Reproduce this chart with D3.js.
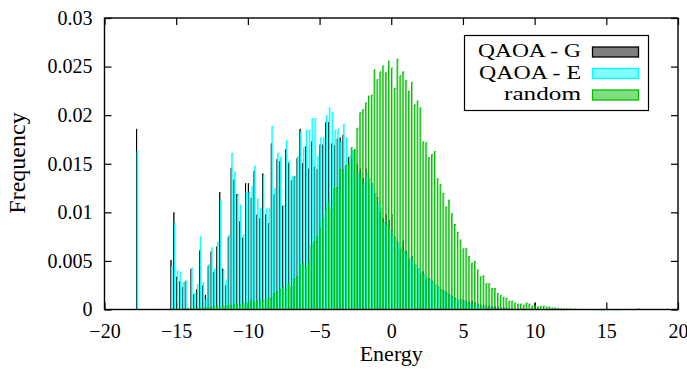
<!DOCTYPE html>
<html>
<head>
<meta charset="utf-8">
<script src="https://cdn.jsdelivr.net/npm/d3@7/dist/d3.min.js"></script>
<style>
  html, body { margin: 0; padding: 0; background: #fff; }
  svg { display: block; }
  text { font-family: "Liberation Serif", "DejaVu Serif", serif; fill: #000; }
</style>
</head>
<body>
<svg id="chart" width="687" height="374"></svg>
<script>
// Energy histogram bins: 0.2 wide, first bin centred at -17.8
const binStart = -17.8;
const binStep = 0.2;

// Frequencies per bin, in units of 1e-3
const qaoaG = [
  18.6, 0, 0, 0, 0, 0, 0, 0, 0, 0, 0, 0,
  5.1, 10.0, 3.4, 2.9, 2.3, 2.9, 0, 4.2, 1.6, 2.1,
  6.1, 2.5, 1.5, 4.5, 6.0, 3.9, 6.5, 12.1, 4.2, 2.5,
  7.5, 14.6, 13.4, 11.9, 9.1, 7.4, 13.0, 13.0, 11.5, 14.3,
  9.8, 9.4, 14.0, 9.8, 8.9, 17.1, 11.9, 15.5, 15.3, 10.7,
  16.5, 15.1, 13.3, 13.7, 15.6, 18.6, 15.1, 16.8, 14.5, 17.3,
  14.7, 14.5, 17.0, 17.0, 19.3, 19.3, 17.1, 16.9, 17.6, 17.7,
  18.0, 14.5, 15.7, 15.5, 16.4, 15.0, 14.5, 13.5, 14.5, 12.6,
  13.0, 12.0, 11.6, 10.0, 9.4, 9.8, 9.2, 9.8, 7.5, 7.0,
  6.2, 7.1, 6.0, 5.1, 5.5, 4.6, 4.2, 3.6, 3.9, 3.1,
  3.2, 2.9, 2.5, 2.4, 2.1, 2.0, 1.8, 1.6, 1.4, 1.2,
  0.8, 1.1, 1.0, 0.9, 0.8, 0.9, 0.7, 0.6, 0.5, 0.5,
  0.4, 0.4, 0.3, 0.3, 0.25, 0.2, 0.2, 0.2, 0.15, 0.1,
  0.1, 0.1, 0.1, 0.1, 0.05, 0.05, 0.1, 0.7, 0.1, 0.05,
  0.05, 0.03, 0.03, 0.02, 0.02, 0.02, 0.01, 0.01, 0, 0
];

const qaoaE = [
  16.3, 0, 0, 0, 0, 0, 0, 0, 0, 0, 0, 0,
  4.5, 8.9, 4.0, 3.9, 2.8, 3.0, 0, 4.3, 1.7, 2.6,
  7.5, 2.8, 1.1, 4.7, 6.4, 4.2, 7.0, 11.3, 4.0, 3.0,
  7.7, 16.1, 14.2, 11.8, 10.8, 7.7, 12.1, 12.1, 12.7, 14.8,
  11.4, 10.4, 13.8, 10.4, 10.4, 18.9, 12.5, 16.1, 15.7, 10.7,
  17.4, 15.3, 13.7, 13.7, 15.8, 18.3, 16.7, 18.5, 18.5, 19.7,
  19.7, 15.8, 17.7, 17.7, 20.0, 20.8, 20.3, 18.5, 18.6, 17.3,
  19.1, 17.7, 15.8, 16.4, 16.4, 14.0, 13.6, 13.0, 14.0, 13.5,
  12.8, 12.0, 11.0, 10.5, 9.0, 8.8, 8.2, 7.6, 7.2, 6.8,
  6.4, 6.0, 5.7, 5.3, 5.0, 4.6, 4.3, 3.9, 3.6, 3.3,
  3.1, 2.8, 2.6, 2.3, 2.1, 1.9, 1.7, 1.5, 1.3, 1.1,
  1.0, 0.9, 0.8, 0.7, 0.6, 0.5, 0.45, 0.4, 0.35, 0.3,
  0.25, 0.2, 0.2, 0.15, 0.1, 0.1, 0.1, 0.05, 0.05, 0.05,
  0.05, 0.05, 0.03, 0.03, 0.03, 0.02, 0.02, 0.02, 0.02, 0.01
];

const randomE = [
  0, 0, 0, 0, 0, 0, 0, 0, 0, 0, 0, 0,
  0.05, 0.05, 0.1, 0.05, 0.1, 0.1, 0.15, 0.1, 0.15, 0.2,
  0.2, 0.2, 0.25, 0.2, 0.3, 0.3, 0.35, 0.3, 0.4, 0.4,
  0.45, 0.5, 0.5, 0.6, 0.5, 0.6, 0.7, 0.6, 1.0, 0.8,
  0.9, 1.0, 0.9, 1.1, 1.1, 1.3, 1.7, 1.9, 2.1, 2.3,
  2.1, 2.7, 2.4, 3.2, 3.4, 4.5, 4.8, 4.4, 4.8, 6.6,
  7.0, 7.5, 8.4, 9.4, 10.3, 11.1, 10.4, 12.5, 12.6, 14.5,
  14.4, 14.9, 15.0, 16.7, 16.5, 18.7, 20.3, 20.6, 21.3, 22.0,
  22.1, 24.7, 23.7, 24.5, 25.1, 24.4, 25.6, 24.9, 22.8, 25.8,
  24.1, 24.5, 23.6, 22.5, 23.4, 21.1, 21.5, 20.8, 17.3, 17.2,
  15.7, 16.0, 16.3, 13.5, 12.9, 12.0, 10.6, 11.3, 9.9, 8.8,
  8.0, 7.2, 6.3, 6.3, 5.5, 4.8, 5.0, 4.1, 3.4, 3.5,
  2.7, 2.7, 2.2, 2.2, 1.7, 1.5, 1.3, 1.2, 0.9, 0.9,
  0.7, 0.6, 0.6, 0.5, 0.7, 0.6, 0.4, 0.4, 0.3, 0.35,
  0.4, 0.3, 0.3, 0.2, 0.2, 0.15, 0.1, 0.1, 0.1, 0.1,
  0.05, 0.08, 0.05, 0.05, 0.03, 0.05, 0.03, 0.02, 0.02, 0.03,
  0.02, 0.02, 0.01, 0.02, 0.01, 0.01, 0.01, 0, 0, 0,
  0, 0, 0, 0.1, 0, 0, 0, 0
];

const xTicks = [-20, -15, -10, -5, 0, 5, 10, 15, 20];
const yTicks = [0, 0.005, 0.01, 0.015, 0.02, 0.025, 0.03];
const yTickLabels = ["0", "0.005", "0.01", "0.015", "0.02", "0.025", "0.03"];

const seriesNames = ["QAOA - G", "QAOA - E", "random"];
const seriesColors = ["#000000", "#00ffff", "#00c000"];

(function draw() {
  const svg = d3.select("#chart");
  const pL = 104.5, pR = 678, pT = 18, pB = 309.5;

  const x = d3.scaleLinear().domain([-20, 20]).range([pL, pR]);
  const y = d3.scaleLinear().domain([0, 0.03]).range([pB, pT]);

  const series = [qaoaG, qaoaE, randomE];
  // placement of each series' box inside a bin (pixel offset from bin centre, width)
  const shifts = [0.0, 0.7, -0.3];
  const widths = [1.2, 1.8, 1.8];

  // ticks (drawn inward, mirrored on all four sides)
  const axB = svg.append("g").attr("transform", `translate(0,${pB})`)
    .call(d3.axisBottom(x).tickValues(xTicks).tickSize(-7).tickPadding(14)
      .tickFormat(d => d < 0 ? "\u2212" + Math.abs(d) : String(d)));
  const axT = svg.append("g").attr("transform", `translate(0,${pT})`)
    .call(d3.axisTop(x).tickValues(xTicks).tickSize(-7).tickFormat(""));
  const axL = svg.append("g").attr("transform", `translate(${pL},0)`)
    .call(d3.axisLeft(y).tickValues(yTicks).tickSize(-7).tickPadding(12)
      .tickFormat((d, i) => yTickLabels[i]));
  const axR = svg.append("g").attr("transform", `translate(${pR},0)`)
    .call(d3.axisRight(y).tickValues(yTicks).tickSize(-7).tickFormat(""));

  [axB, axT, axL, axR].forEach(a => {
    a.select(".domain").remove();
    a.selectAll(".tick line").attr("stroke", "#000").attr("stroke-width", 1.2);
    a.selectAll("text").attr("font-size", 20);
  });

  // histogram boxes: half-transparent fill with an opaque edge
  series.forEach((vals, s) => {
    const g = svg.append("g");
    const w = widths[s];
    const data = vals.map((v, i) => ({ e: binStart + i * binStep, f: v * 1e-3 }))
      .filter(d => d.f > 0);
    g.selectAll("rect.body").data(data).join("rect")
      .attr("class", "body")
      .attr("x", d => x(d.e) + shifts[s])
      .attr("width", w)
      .attr("y", d => y(d.f))
      .attr("height", d => pB - y(d.f))
      .attr("fill", seriesColors[s])
      .attr("fill-opacity", 0.5);
    g.selectAll("path.edge").data(data).join("path")
      .attr("class", "edge")
      .attr("d", d => {
        const x0 = x(d.e) + shifts[s] + 0.5, yt = y(d.f) + 0.5;
        return `M${x0},${pB}V${yt}H${x0 + Math.max(w - 0.5, 0.5)}`;
      })
      .attr("fill", "none")
      .attr("stroke", seriesColors[s])
      .attr("stroke-width", 1);
  });

  // frame
  svg.append("rect")
    .attr("x", pL).attr("y", pT)
    .attr("width", pR - pL).attr("height", pB - pT)
    .attr("fill", "none").attr("stroke", "#000").attr("stroke-width", 1.4);

  // axis titles
  svg.append("text")
    .attr("x", (pL + pR) / 2).attr("y", 361)
    .attr("text-anchor", "middle").attr("font-size", 22)
    .text("Energy");
  svg.append("text")
    .attr("transform", "translate(25,163) rotate(-90)")
    .attr("text-anchor", "middle").attr("font-size", 24)
    .text("Frequency");

  // legend
  const lg = svg.append("g");
  lg.append("rect")
    .attr("x", 464.5).attr("y", 35.5).attr("width", 184).attr("height", 75)
    .attr("fill", "#fff").attr("stroke", "#000").attr("stroke-width", 1.2);
  seriesNames.forEach((name, i) => {
    const yb = 57 + i * 21.5;
    lg.append("text")
      .attr("x", 581).attr("y", yb)
      .attr("text-anchor", "end").attr("font-size", 19)
      .attr("textLength", [103, 102, 77][i]).attr("lengthAdjust", "spacingAndGlyphs")
      .text(name);
    lg.append("rect")
      .attr("x", 592.5).attr("y", yb - 10).attr("width", 46).attr("height", 10)
      .attr("fill", seriesColors[i]).attr("fill-opacity", 0.5)
      .attr("stroke", seriesColors[i]).attr("stroke-width", 1.3);
  });
})();
</script>
</body>
</html>
